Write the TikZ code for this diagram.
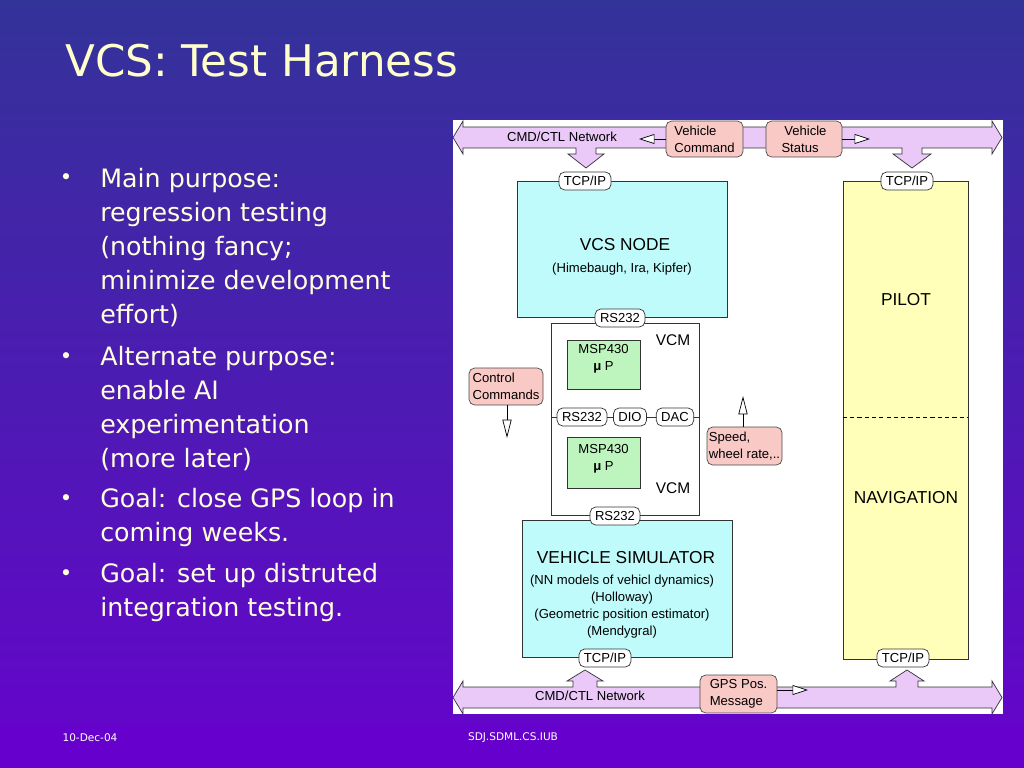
\documentclass[tikz,border=0pt]{standalone}
\usepackage{fontspec}
\setmainfont{DejaVu Sans}
\newfontfamily\diagfont{Liberation Sans}
\usetikzlibrary{positioning, arrows.meta}
\newlength\pxu
\setlength\pxu{0.025cm}
\newcommand\diagsmall{\diagfont\fontsize{9.3}{12}\selectfont}
\newcommand\diagbig{\diagfont\fontsize{12.3}{15}\selectfont}
\definecolor{bgtop}{HTML}{333399}
\definecolor{bgbot}{HTML}{6306C9}
\definecolor{footbg}{HTML}{6600CC}
\definecolor{titlecol}{HTML}{FFFFCC}
\definecolor{textcol}{HTML}{FFFFDD}
\definecolor{netlilac}{HTML}{EAC8F8}
\definecolor{nodecyan}{HTML}{BFFBFB}
\definecolor{pilotyellow}{HTML}{FFFFB9}
\definecolor{mspgreen}{HTML}{BEF5BE}
\definecolor{msgpink}{HTML}{F9C9C6}
\tikzset{
  netarrow/.style={draw=black!80, fill=netlilac, line width=0.5pt},
  unitbox/.style ={draw=black!80, line width=0.5pt, inner sep=0pt},
  port/.style    ={draw=black!80, fill=white, rounded corners=4pt, line width=0.5pt,
                   inner xsep=3.5pt, inner ysep=0pt, minimum height=18\pxu, font=\diagsmall},
  msgbox/.style  ={draw=black!70, fill=msgpink, rounded corners=4pt, line width=0.5pt,
                   align=left, inner sep=0pt, font=\diagsmall},
  flow/.style    ={line width=0.5pt, -{Triangle[fill=white, length=11pt, width=7pt]}},
  flowv/.style   ={line width=0.5pt, -{Triangle[fill=white, length=13pt, width=6.5pt]}},
  bulletitem/.style={anchor=north west, inner sep=0pt, align=left, text=textcol,
                   font=\fontsize{18}{24.2}\selectfont},
  bulletmark/.style={anchor=base, text=textcol, inner sep=0pt, font=\fontsize{15}{18}\selectfont}
}
\begin{document}
\begin{tikzpicture}[x=0.025cm, y=-0.025cm]
  \useasboundingbox (0,0) rectangle (1024,768);
  % slide background
  \fill[top color=bgtop, bottom color=bgbot] (0,0) rectangle (1024,725);
  \fill[footbg] (0,725) rectangle (1024,768);

  % title and bullets
  \node[anchor=base west, inner sep=0pt, text=titlecol, font=\fontsize{31}{36}\selectfont]
    (title) at (65,77) {VCS: Test Harness};
  \node[bulletitem] (item1) at (100,167.5)
    {Main purpose:\\regression testing\\(nothing fancy;\\minimize development\\effort)};
  \node[bulletitem] (item2) at (100,345.5)
    {Alternate purpose:\\enable AI\\experimentation\\(more later)};
  \node[bulletitem] (item3) at (100,487.5) {Goal: close GPS loop in\\coming weeks.};
  \node[bulletitem] (item4) at (100,562.5) {Goal: set up distruted\\integration testing.};
  \foreach \y/\n in {185/1, 363/2, 505/3, 580/4}
    \node[bulletmark] (mark\n) at (66,\y) {•};

  % footer
  \node[text=white, font=\fontsize{7.5}{9}\selectfont] (date) at (90,738) {10-Dec-04};
  \node[text=white, font=\fontsize{7.5}{9}\selectfont] (lab) at (513,738) {SDJ.SDML.CS.IUB};

  % diagram panel
  \fill[white] (453,120) rectangle (1003,714);

  % networks
  \draw[netarrow] (453,137.5) -- (463,121) -- (463,127) -- (992,127) -- (992,121)
    -- (1002,137.5) -- (992,154) -- (992,148) -- (922,148) -- (922,154) -- (931,154)
    -- (912,168) -- (893,154) -- (902,154) -- (902,148) -- (596,148) -- (596,154)
    -- (604,154) -- (586,168) -- (568,154) -- (576,154) -- (576,148) -- (463,148)
    -- (463,154) -- cycle;
  \draw[netarrow] (453,697.5) -- (463,681) -- (463,687) -- (573,687) -- (573,681)
    -- (567,681) -- (585,670) -- (603,681) -- (597,681) -- (597,687) -- (896,687)
    -- (896,681) -- (890,681) -- (907,670) -- (924,681) -- (918,681) -- (918,687)
    -- (992,687) -- (992,681) -- (1002,697.5) -- (992,714) -- (992,708) -- (463,708)
    -- (463,714) -- cycle;
  \node[font=\diagsmall] (topnet) at (562,137) {CMD/CTL Network};
  \node[font=\diagsmall] (botnet) at (590,696) {CMD/CTL Network};

  % units
  \node[unitbox, fill=nodecyan, minimum width=210\pxu, minimum height=136\pxu]
    (vcsnode) at (622,249) {};
  \node[font=\diagbig] (vcslabel) at (625,245) {VCS NODE};
  \node[font=\diagsmall] (vcsnames) at (622,269) {(Himebaugh, Ira, Kipfer)};

  \node[unitbox, fill=white, minimum width=148\pxu, minimum height=94\pxu]
    (vcmtop) at (625,370) {};
  \node[unitbox, fill=white, minimum width=148\pxu, minimum height=98\pxu]
    (vcmbot) at (625,466) {};
  \node[font=\diagfont\fontsize{11}{13}\selectfont] (vcmtoplabel) at (673,340) {VCM};
  \node[font=\diagfont\fontsize{11}{13}\selectfont] (vcmbotlabel) at (673,488) {VCM};
  \node[unitbox, fill=mspgreen, minimum width=73\pxu, minimum height=49\pxu]
    (msptop) at (603.5,364.5) {};
  \node[font=\diagsmall, align=center] at (603.5,358.5) {MSP430\\{\bfseries μ} P};
  \node[unitbox, fill=mspgreen, minimum width=73\pxu, minimum height=51\pxu]
    (mspbot) at (603.5,462.5) {};
  \node[font=\diagsmall, align=center] at (603.5,458.5) {MSP430\\{\bfseries μ} P};

  \node[unitbox, fill=nodecyan, minimum width=210\pxu, minimum height=137\pxu]
    (vsim) at (627,588.5) {};
  \node[font=\diagbig] (vsimlabel) at (626,558) {VEHICLE SIMULATOR};
  \node[font=\diagsmall, align=center] (vsimnotes) at (622,606.5)
    {(NN models of vehicl dynamics)\\(Holloway)\\(Geometric position estimator)\\(Mendygral)};

  \node[unitbox, fill=pilotyellow, minimum width=125\pxu, minimum height=478\pxu]
    (pilotnav) at (905.5,420) {};
  \draw[dashed, dash pattern=on 3pt off 2.2pt, line width=0.5pt]
    (pilotnav.west |- 0,417) -- (pilotnav.east |- 0,417);
  \node[font=\diagbig] (pilot) at (906,300) {PILOT};
  \node[font=\diagbig] (nav) at (906,498) {NAVIGATION};

  % ports
  \node[port] (tcpvcs) at (585,181) {TCP/IP};
  \node[port] (rsvcs)  at (620,318) {RS232};
  \node[port] (rsmid)  at (582,417) {RS232};
  \node[port] (diomid) at (630,417) {DIO};
  \node[port] (dacmid) at (675,417) {DAC};
  \node[port] (rsbot)  at (615,516) {RS232};
  \node[port] (tcpvs)  at (605,658) {TCP/IP};
  \node[port] (tcppil) at (907,181) {TCP/IP};
  \node[port] (tcpnav) at (903,658) {TCP/IP};

  % messages
  \node[msgbox, minimum width=77\pxu, minimum height=36\pxu] (vehcmd) at (704.5,139)
    {Vehicle\\Command};
  \node[msgbox, minimum width=76\pxu, minimum height=36\pxu] (vehstat) at (804,139)
    {\hspace*{2pt}Vehicle\\Status};
  \node[msgbox, minimum width=77\pxu, minimum height=38\pxu] (gpsmsg) at (738.5,694)
    {GPS Pos.\\Message};
  \node[msgbox, minimum width=74\pxu, minimum height=37\pxu] (ctrlcmd) at (506,386.5)
    {Control\\Commands};
  \node[msgbox, minimum width=75\pxu, minimum height=38\pxu] (speed) at (744.5,446)
    {Speed,\\wheel rate,..};

  % message directions
  \coordinate (cmdtip)   at (639,139);
  \coordinate (stattip)  at (870,139);
  \coordinate (gpstip)   at (808,690);
  \coordinate (ctrltip)  at (507,438);
  \coordinate (speedtip) at (743,396);
  \draw[flow] (vehcmd.west) -- (cmdtip);
  \draw[flow] (vehstat.east) -- (stattip);
  \draw[flow] (gpsmsg.east |- gpstip) -- (gpstip);
  \draw[flowv] (ctrlcmd.south -| ctrltip) -- (ctrltip);
  \draw[flowv] (speed.north -| speedtip) -- (speedtip);
\end{tikzpicture}
\end{document}
